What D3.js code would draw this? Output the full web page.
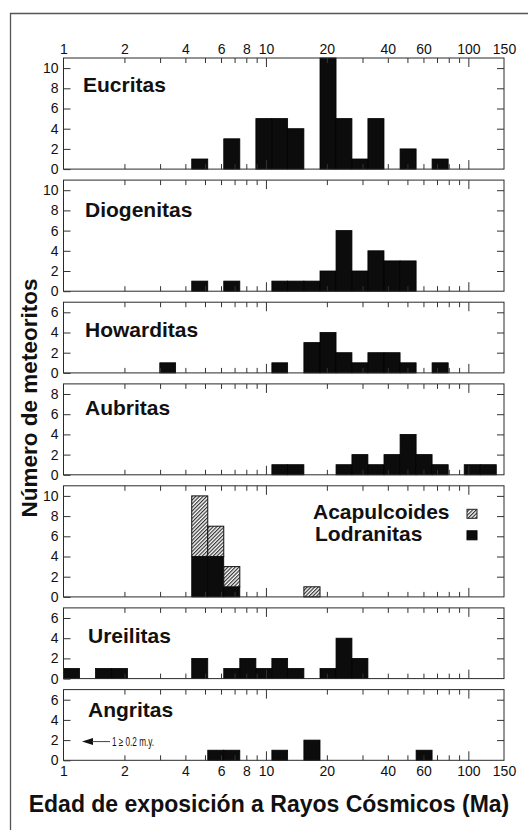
<!DOCTYPE html>
<html><head><meta charset="utf-8">
<script src="https://cdn.jsdelivr.net/npm/d3@7"></script>
<style>body{margin:0;background:#fff}svg{display:block}text{font-family:"Liberation Sans",Arial,Helvetica,sans-serif;fill:#111}</style>
</head><body><svg id="c" width="528" height="830"></svg>
<script>
// ---- data ----
const binEdges = [1, 1.2, 1.44, 1.73, 2.07, 2.49, 2.99, 3.58, 4.3, 5.16, 6.19, 7.43, 8.92, 10.7, 12.8, 15.4, 18.5, 22.2, 26.6, 31.9, 38.3, 46.0, 55.2, 66.2, 79.5, 95.4, 114.5, 137.4];
const xTickLabels = [1, 2, 4, 6, 8, 10, 20, 40, 60, 100, 150];
const xMinorTicks = [2, 3, 4, 5, 6, 7, 8, 9, 20, 30, 40, 50, 60, 70, 80, 90];
const xMajorTicks = [10, 100];
const panelNames = ["Eucritas", "Diogenitas", "Howarditas", "Aubritas", "", "Ureilitas", "Angritas"];
const panelMax = [11, 11, 7, 9, 11, 7, 7];
const yTicks11 = [0, 2, 4, 6, 8, 10];
const yTicks9 = [0, 2, 4, 6, 8];
const yTicks7 = [0, 2, 4, 6];
const eucritas    = [0,0,0,0,0,0,0,0,1,0,3,0,5,5,4,0,11,5,1,5,0,2,0,1,0,0,0];
const diogenitas  = [0,0,0,0,0,0,0,0,1,0,1,0,0,1,1,1,2,6,2,4,3,3,0,0,0,0,0];
const howarditas  = [0,0,0,0,0,0,1,0,0,0,0,0,0,1,0,3,4,2,1,2,2,1,0,1,0,0,0];
const aubritas    = [0,0,0,0,0,0,0,0,0,0,0,0,0,1,1,0,0,1,2,1,2,4,2,1,0,1,1];
const lodranitas  = [0,0,0,0,0,0,0,0,4,4,1,0,0,0,0,0,0,0,0,0,0,0,0,0,0,0,0];
const acapulcoides= [0,0,0,0,0,0,0,0,6,3,2,0,0,0,0,1,0,0,0,0,0,0,0,0,0,0,0];
const ureilitas   = [1,0,1,1,0,0,0,0,2,0,1,2,1,2,1,0,1,4,2,0,0,0,0,0,0,0,0];
const angritas    = [0,0,0,0,0,0,0,0,0,1,1,0,0,1,0,2,0,0,0,0,0,0,1,0,0,0,0];
const panelSeries = [eucritas, diogenitas, howarditas, aubritas, lodranitas, ureilitas, angritas];

// ---- layout ----
const svg = d3.select("#c");
const defs = svg.append("defs");
const pat = defs.append("pattern").attr("id","hatch").attr("patternUnits","userSpaceOnUse")
  .attr("width",2.6).attr("height",2.6).attr("patternTransform","rotate(45)");
pat.append("rect").attr("width",2.6).attr("height",2.6).attr("fill","#fff");
pat.append("line").attr("x1",0.6).attr("y1",0).attr("x2",0.6).attr("y2",2.6).attr("stroke","#333").attr("stroke-width",1.2);

svg.append("path").attr("d","M10.5,830V13.5H528").attr("fill","none").attr("stroke","#555").attr("stroke-width",1.3);

const x = d3.scaleLog().domain([1,150]).range([63.5,504]);
const unit = 10.1, gap = 11;
const labelDy = [34, 37, 35, 31, 0, 35, 27];
const labelX = [83, 85, 85, 85, 0, 88, 88];
let py = 58;
panelMax.forEach((mx, p) => {
  const h = mx*unit;
  const y = d3.scaleLinear().domain([0,mx]).range([py+h, py]);
  const g = svg.append("g");
  const yt = mx === 11 ? yTicks11 : mx === 9 ? yTicks9 : yTicks7;

  // bars
  const series = panelSeries[p];
  series.forEach((v,i) => {
    if (v > 0) {
      g.append("rect").attr("x", x(binEdges[i])).attr("y", y(v))
        .attr("width", x(binEdges[i+1]) - x(binEdges[i])).attr("height", y(0)-y(v))
        .attr("fill","#0c0c0c").attr("stroke","#000").attr("stroke-width",0.8);
    }
  });
  if (p === 4) {
    acapulcoides.forEach((v,i) => {
      if (v > 0) {
        const b = lodranitas[i];
        g.append("rect").attr("x", x(binEdges[i])).attr("y", y(b+v))
          .attr("width", x(binEdges[i+1]) - x(binEdges[i])).attr("height", y(b)-y(b+v))
          .attr("fill","url(#hatch)").attr("stroke","#111").attr("stroke-width",1);
      }
    });
  }

  // frame
  g.append("rect").attr("x",x(1)).attr("y",py).attr("width",x(150)-x(1)).attr("height",h)
    .attr("fill","none").attr("stroke","#2a2a2a").attr("stroke-width",1);

  // y axes
  const la = g.append("g").attr("transform",`translate(${x(1)},0)`)
    .call(d3.axisLeft(y).tickValues(yt).tickSize(-7).tickPadding(5).tickFormat(d3.format("d")));
  la.select(".domain").remove();
  la.selectAll("text").style("font-size","14px").attr("fill","#111");
  la.selectAll("line").attr("stroke","#333");
  const ra = g.append("g").attr("transform",`translate(${x(150)},0)`)
    .call(d3.axisRight(y).tickValues(yt.filter(d=>d>0)).tickSize(-7).tickFormat(""));
  ra.select(".domain").remove();
  ra.selectAll("line").attr("stroke","#333");

  // x ticks top & bottom
  [[d3.axisTop, py],[d3.axisBottom, py+h]].forEach(([ax, yy]) => {
    const a1 = g.append("g").attr("transform",`translate(0,${yy})`)
      .call(ax(x).tickValues(xMinorTicks).tickSize(-5).tickFormat(""));
    a1.select(".domain").remove(); a1.selectAll("line").attr("stroke","#333");
    const a2 = g.append("g").attr("transform",`translate(0,${yy})`)
      .call(ax(x).tickValues(xMajorTicks).tickSize(-9).tickFormat(""));
    a2.select(".domain").remove(); a2.selectAll("line").attr("stroke","#333");
  });
  if (p === 0) {
    const tl = g.append("g").attr("transform",`translate(0,${py})`)
      .call(d3.axisTop(x).tickValues(xTickLabels).tickSize(0).tickPadding(4.5).tickFormat(d3.format("d")));
    tl.select(".domain").remove();
    tl.selectAll("text").style("font-size","14px").attr("fill","#111");
  }
  if (p === panelMax.length-1) {
    const bl = g.append("g").attr("transform",`translate(0,${py+h})`)
      .call(d3.axisBottom(x).tickValues(xTickLabels).tickSize(0).tickPadding(6).tickFormat(d3.format("d")));
    bl.select(".domain").remove();
    bl.selectAll("text").style("font-size","14px").attr("fill","#111");
  }

  if (panelNames[p]) {
    g.append("text").attr("x",labelX[p]).attr("y",py+labelDy[p]).text(panelNames[p])
      .style("font-size","21px").style("font-weight","bold");
  }
  if (p === 4) {
    g.append("text").attr("x",313).attr("y",py+33).text("Acapulcoides").style("font-size","21px").style("font-weight","bold");
    g.append("text").attr("x",315).attr("y",py+55).text("Lodranitas").style("font-size","21px").style("font-weight","bold");
    g.append("rect").attr("x",467).attr("y",py+23.5).attr("width",10).attr("height",9).attr("fill","url(#hatch)").attr("stroke","#222");
    g.append("rect").attr("x",467).attr("y",py+45).attr("width",10).attr("height",9).attr("fill","#0c0c0c").attr("stroke","#000");
  }
  if (p === 6) {
    const ay = y(2) + 1.5;
    g.append("path").attr("d",`M82,${ay}L93,${ay-3.5}L93,${ay+3.5}Z`).attr("fill","#111");
    g.append("line").attr("x1",92).attr("x2",110).attr("y1",ay).attr("y2",ay).attr("stroke","#444").attr("stroke-width",1);
    g.append("text").attr("x",112).attr("y",ay+4.5).text("1 \u2265 0.2 m.y.").style("font-size","12.5px")
      .attr("textLength",42).attr("lengthAdjust","spacingAndGlyphs");
  }
  py += h + gap;
});

svg.append("text").attr("transform","translate(37,398) rotate(-90)").attr("text-anchor","middle")
  .text("Número de meteoritos").style("font-size","22.5px").style("font-weight","bold");
svg.append("text").attr("x",269).attr("y",812).attr("text-anchor","middle")
  .text("Edad de exposición a Rayos Cósmicos (Ma)").style("font-size","23px").style("font-weight","bold");
</script></body></html>
